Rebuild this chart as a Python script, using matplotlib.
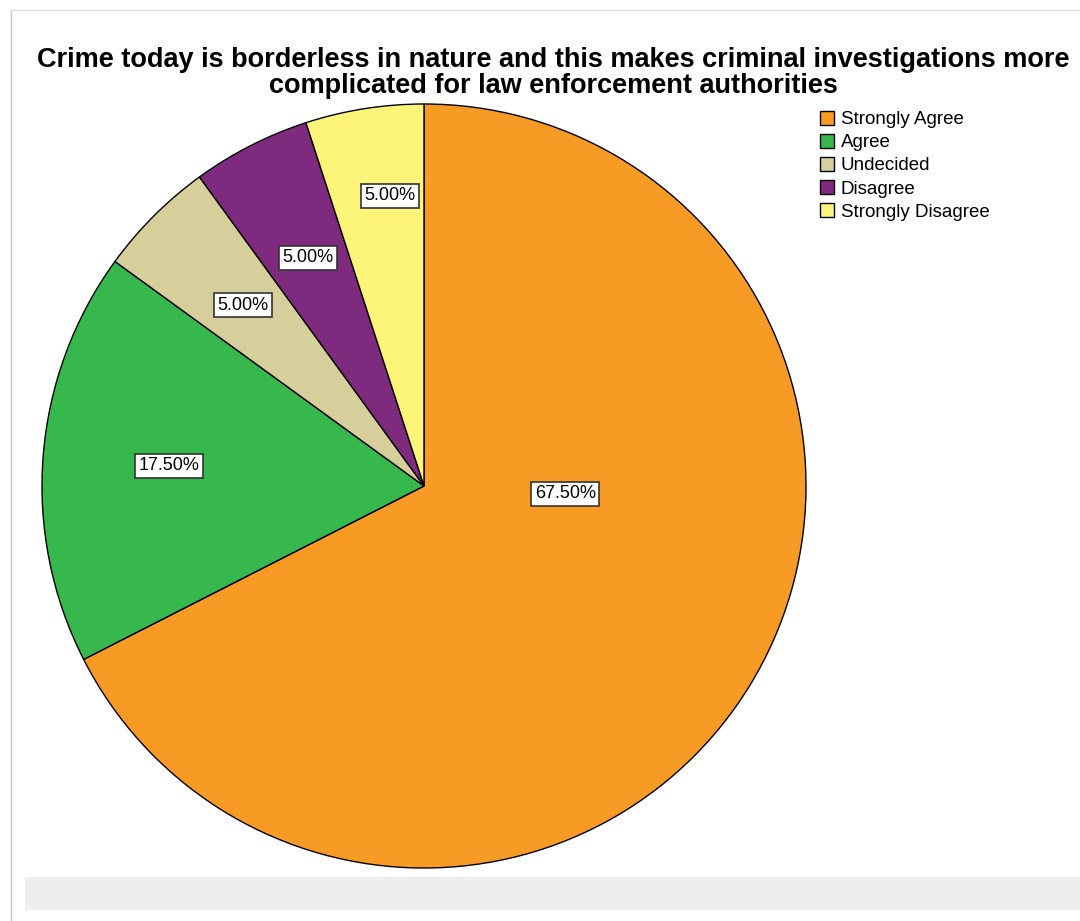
import matplotlib.pyplot as plt
from matplotlib.patches import Rectangle
from matplotlib.lines import Line2D

plt.rcParams['font.family'] = ['Liberation Sans', 'DejaVu Sans']

# data
categories = ['Strongly Agree', 'Agree', 'Undecided', 'Disagree', 'Strongly Disagree']
percents = [67.5, 17.5, 5.0, 5.0, 5.0]
colors = ['#F89B24', '#36B84C', '#D6CF9C', '#7E2A7E', '#FDF57A']
title = ("Crime today is borderless in nature and this makes criminal investigations more\n"
         "complicated for law enforcement authorities")

fig = plt.figure(figsize=(10.8, 9.21), dpi=100)

# outer frame and grey footer like the SPSS output
fig.add_artist(Line2D([11/1080, 11/1080], [0, 1 - 10/921], color='#C8C8C8', lw=1))
fig.add_artist(Line2D([11/1080, 1], [1 - 10/921, 1 - 10/921], color='#DDDDDD', lw=1))
fig.add_artist(Rectangle((25/1080, 11/921), 1055/1080, 33/921,
                         facecolor='#EEEEEE', edgecolor='none', transform=fig.transFigure))

ax = fig.add_axes([42/1080, 53/921, 764/1080, 764/921])
wedges, texts, autotexts = ax.pie(
    percents, colors=colors, startangle=90, counterclock=False,
    autopct='%.2f%%', pctdistance=0.67,
    wedgeprops=dict(edgecolor='black', linewidth=1),
    textprops=dict(fontsize=13))
ax.set_xlim(-1, 1)
ax.set_ylim(-1, 1)
ax.set_aspect('equal')

for t in autotexts:
    t.set_bbox(dict(facecolor='white', edgecolor='#333333', linewidth=1.2, pad=2.5))
# SPSS puts the big slice label close to the centre
autotexts[0].set_position((0.37, -0.02))
autotexts[4].set_position((-0.09, 0.76))

fig.text(553/1080, 1 - 73/921, title, ha='center', va='center',
         fontsize=19.5, fontweight='bold', linespacing=0.98)

fig.legend(wedges, categories, loc='upper left', bbox_to_anchor=(820/1080, 1 - 111/921),
           frameon=False, fontsize=13.5, handlelength=0.75, handleheight=0.75,
           handletextpad=0.35, labelspacing=0.3, borderaxespad=0, borderpad=0)

fig.savefig('out.png', dpi=100)
